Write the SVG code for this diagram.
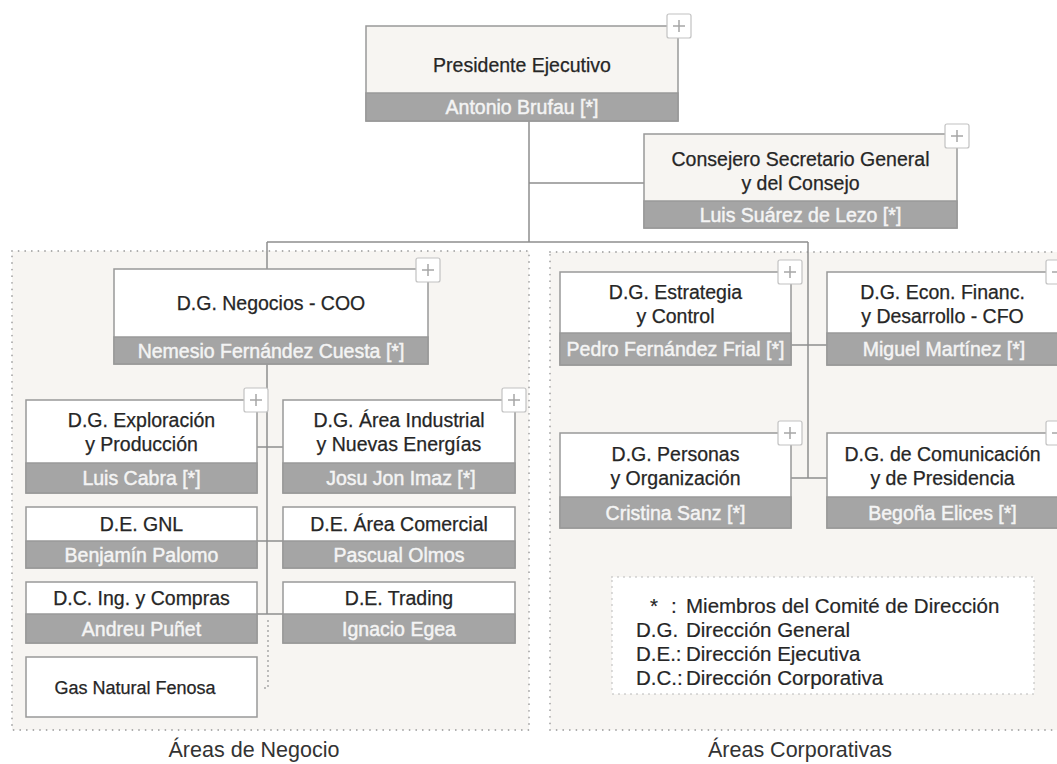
<svg xmlns="http://www.w3.org/2000/svg" xmlns:xlink="http://www.w3.org/1999/xlink" width="1057" height="764" viewBox="0 0 1057 764">
<style>
.panel{fill:#f7f5f2;stroke:#a8a8a8;stroke-width:1.8;stroke-dasharray:0 6.6;stroke-linecap:round}
.legend{fill:#ffffff;stroke:#b0b0b0;stroke-width:1.6;stroke-dasharray:0 6;stroke-linecap:round}
.box{fill:#ffffff;stroke:#999999;stroke-width:1.5}
.boxb{fill:#f7f5f2;stroke:#999999;stroke-width:1.5}
.band{fill:#a5a5a5;stroke:#999999;stroke-width:1.5}
.t{font-family:"Liberation Sans",Arial,sans-serif;font-size:19.5px;fill:#262626;stroke:#262626;stroke-width:0.25;text-anchor:middle}
.n{font-family:"Liberation Sans",Arial,sans-serif;font-size:19.5px;fill:#f4f4f4;stroke:#f4f4f4;stroke-width:0.45;text-anchor:middle}
.lg{font-family:"Liberation Sans",Arial,sans-serif;font-size:20.5px;fill:#262626;stroke:#262626;stroke-width:0.2}
.sec{font-family:"Liberation Sans",Arial,sans-serif;font-size:21.5px;fill:#333333;text-anchor:middle}
.pb{fill:#ffffff;stroke:#c2c2c2;stroke-width:1.2}
.pl{stroke:#a6a6a6;stroke-width:1.5;fill:none}
.conn{stroke:#8e8e8e;stroke-width:1.5;fill:none}
.dots{stroke:#a0a0a0;stroke-width:1.8;stroke-dasharray:0 5;stroke-linecap:round;fill:none}
</style>
<defs>
<g id="plus">
<rect class="pb" x="-12" y="-12" width="24" height="24" rx="2"/>
<path class="pl" d="M-6 0H6M0 -6V6"/>
</g>
</defs>
<rect width="1057" height="764" fill="#ffffff"/>

<g id="panels">
<rect class="panel" x="12" y="251" width="517" height="479"/>
<rect class="panel" x="550" y="252" width="520" height="478"/>
<text class="sec" x="254" y="757">Áreas de Negocio</text>
<text class="sec" x="800" y="757">Áreas Corporativas</text>
</g>

<g id="connectors">
<path class="conn" d="M529 121V242M529 183H644M267 242H808M267 242V269M267 364V614M257 447H283M257 541H283M257 614H283M808 242V478M791 345H827M791 478H827"/>
<path class="dots" d="M268 621V688H260"/>
</g>

<g id="presidente">
<rect class="boxb" x="366" y="26" width="312" height="95"/>
<rect class="band" x="366" y="93" width="312" height="28"/>
<text class="t" x="522" y="72">Presidente Ejecutivo</text>
<text class="n" x="522" y="114">Antonio Brufau [*]</text>
<use xlink:href="#plus" href="#plus" transform="translate(679,26)"/>
</g>

<g id="consejero">
<rect class="boxb" x="644" y="134" width="313" height="94"/>
<rect class="band" x="644" y="201" width="313" height="27"/>
<text class="t" x="800.5" y="166">Consejero Secretario General</text>
<text class="t" x="800.5" y="190">y del Consejo</text>
<text class="n" x="800.5" y="221.5">Luis Suárez de Lezo [*]</text>
<use xlink:href="#plus" href="#plus" transform="translate(957,136)"/>
</g>

<g id="negocios">
<rect class="box" x="114" y="269" width="314" height="95"/>
<rect class="band" x="114" y="337" width="314" height="27"/>
<text class="t" x="271" y="310">D.G. Negocios - COO</text>
<text class="n" x="271" y="357.5">Nemesio Fernández Cuesta [*]</text>
<use xlink:href="#plus" href="#plus" transform="translate(428,270)"/>
</g>

<g id="exploracion">
<rect class="box" x="26" y="400" width="231" height="93"/>
<rect class="band" x="26" y="463" width="231" height="30"/>
<text class="t" x="141.5" y="427">D.G. Exploración</text>
<text class="t" x="141.5" y="451">y Producción</text>
<text class="n" x="141.5" y="485">Luis Cabra [*]</text>
<use xlink:href="#plus" href="#plus" transform="translate(256,400)"/>
</g>

<g id="industrial">
<rect class="box" x="283" y="400" width="232" height="93"/>
<rect class="band" x="283" y="463" width="232" height="30"/>
<text class="t" x="399" y="427">D.G. Área Industrial</text>
<text class="t" x="399" y="451">y Nuevas Energías</text>
<text class="n" x="401" y="485">Josu Jon Imaz [*]</text>
<use xlink:href="#plus" href="#plus" transform="translate(514,400)"/>
</g>

<g id="gnl">
<rect class="box" x="26" y="507" width="231" height="61"/>
<rect class="band" x="26" y="541" width="231" height="27"/>
<text class="t" x="141.5" y="531">D.E. GNL</text>
<text class="n" x="141.5" y="561.5">Benjamín Palomo</text>
</g>

<g id="comercial">
<rect class="box" x="283" y="507" width="232" height="61"/>
<rect class="band" x="283" y="541" width="232" height="27"/>
<text class="t" x="399" y="531">D.E. Área Comercial</text>
<text class="n" x="399" y="561.5">Pascual Olmos</text>
</g>

<g id="compras">
<rect class="box" x="26" y="582" width="231" height="61"/>
<rect class="band" x="26" y="614" width="231" height="29"/>
<text class="t" x="141.5" y="605">D.C. Ing. y Compras</text>
<text class="n" x="141.5" y="635.5">Andreu Puñet</text>
</g>

<g id="trading">
<rect class="box" x="283" y="582" width="232" height="61"/>
<rect class="band" x="283" y="614" width="232" height="29"/>
<text class="t" x="399" y="605">D.E. Trading</text>
<text class="n" x="399" y="635.5">Ignacio Egea</text>
</g>

<g id="gasnatural">
<rect class="box" x="26" y="657" width="231" height="60"/>
<text class="t" x="135" y="694" style="font-size:18px">Gas Natural Fenosa</text>
</g>

<g id="estrategia">
<rect class="box" x="560" y="272" width="231" height="93"/>
<rect class="band" x="560" y="333" width="231" height="32"/>
<text class="t" x="675.5" y="299">D.G. Estrategia</text>
<text class="t" x="675.5" y="323">y Control</text>
<text class="n" x="675.5" y="356">Pedro Fernández Frial [*]</text>
<use xlink:href="#plus" href="#plus" transform="translate(790,272)"/>
</g>

<g id="cfo">
<rect class="box" x="827" y="272" width="232" height="93"/>
<rect class="band" x="827" y="333" width="232" height="32"/>
<text class="t" x="942.5" y="299">D.G. Econ. Financ.</text>
<text class="t" x="942.5" y="323">y Desarrollo - CFO</text>
<text class="n" x="944" y="356">Miguel Martínez [*]</text>
<use xlink:href="#plus" href="#plus" transform="translate(1058,272)"/>
</g>

<g id="personas">
<rect class="box" x="560" y="433" width="231" height="95"/>
<rect class="band" x="560" y="497" width="231" height="31"/>
<text class="t" x="675.5" y="461">D.G. Personas</text>
<text class="t" x="675.5" y="485">y Organización</text>
<text class="n" x="675.5" y="519.5">Cristina Sanz [*]</text>
<use xlink:href="#plus" href="#plus" transform="translate(790,433)"/>
</g>

<g id="comunicacion">
<rect class="box" x="827" y="433" width="232" height="95"/>
<rect class="band" x="827" y="497" width="232" height="31"/>
<text class="t" x="942.5" y="461">D.G. de Comunicación</text>
<text class="t" x="942.5" y="485">y de Presidencia</text>
<text class="n" x="942.5" y="519.5">Begoña Elices [*]</text>
<use xlink:href="#plus" href="#plus" transform="translate(1058,433)"/>
</g>

<g id="leyenda">
<rect class="legend" x="612" y="577" width="422" height="117"/>
<text class="lg" y="613"><tspan x="650">*</tspan><tspan x="671">:</tspan><tspan x="686">Miembros del Comité de Dirección</tspan></text>
<text class="lg" y="637"><tspan x="636">D.G.</tspan><tspan x="686">Dirección General</tspan></text>
<text class="lg" y="661"><tspan x="636">D.E.:</tspan><tspan x="686">Dirección Ejecutiva</tspan></text>
<text class="lg" y="685"><tspan x="636">D.C.:</tspan><tspan x="686">Dirección Corporativa</tspan></text>
</g>
</svg>
